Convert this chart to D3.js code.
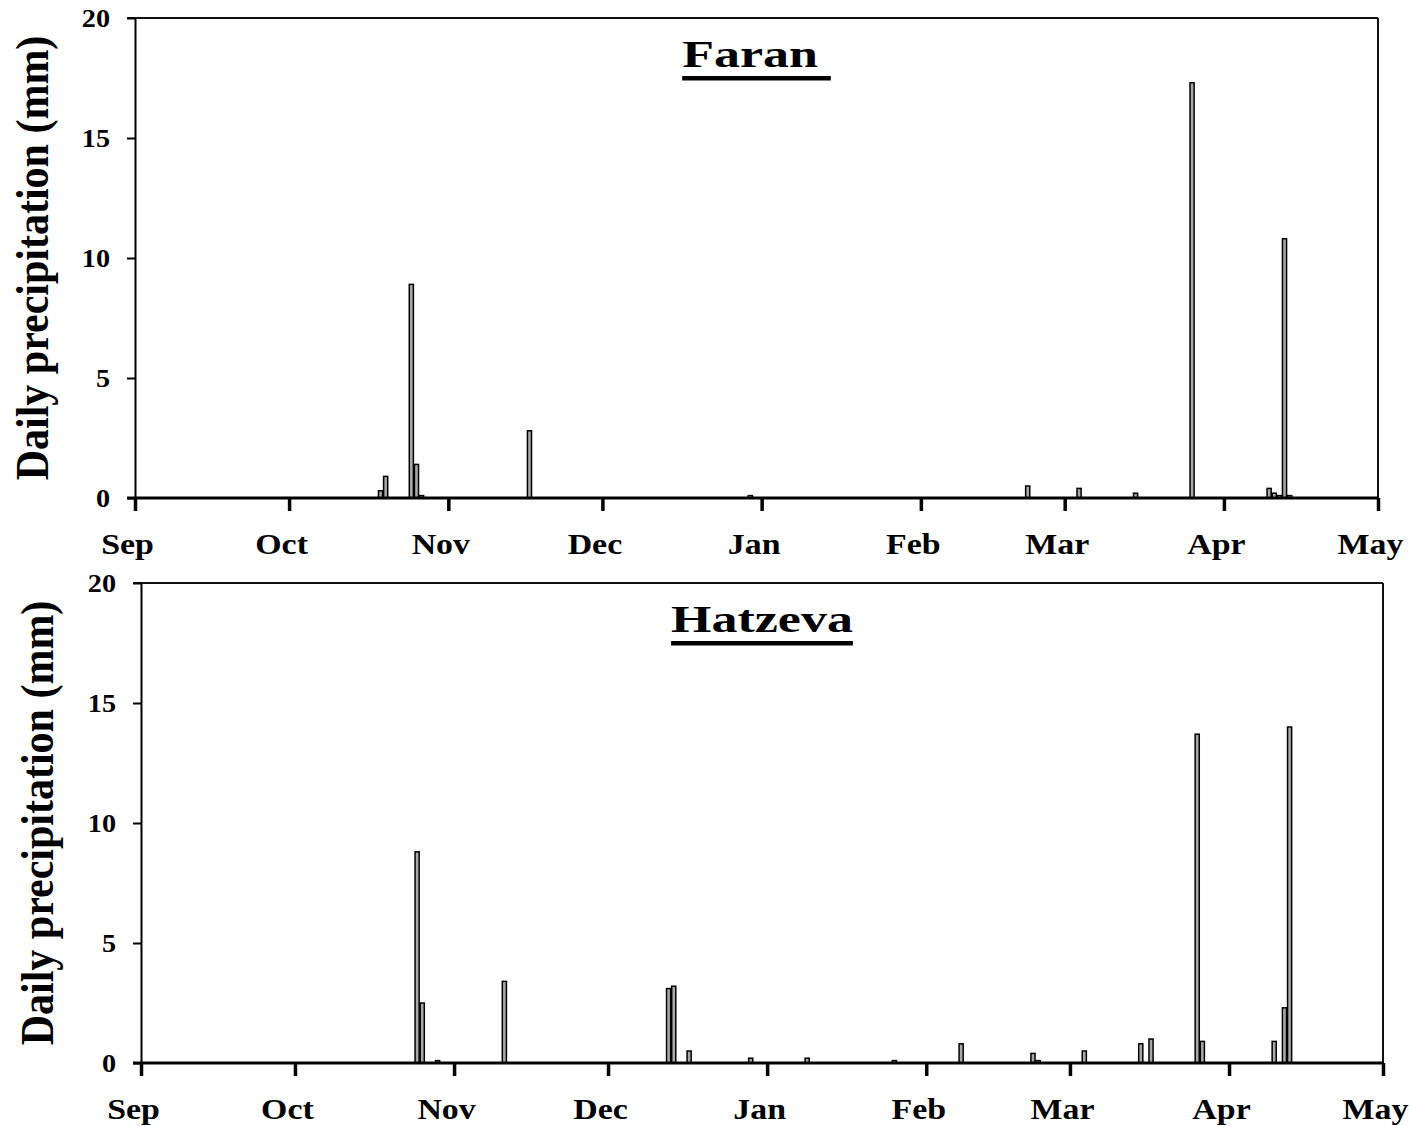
<!DOCTYPE html>
<html>
<head>
<meta charset="utf-8">
<script src="https://cdn.jsdelivr.net/npm/d3@7/dist/d3.min.js"></script>
<style>
  html, body { margin: 0; padding: 0; background: #fff; }
  svg { display: block; }
  text { font-family: "Liberation Serif", "Times New Roman", serif; font-weight: bold; fill: #000; }
</style>
</head>
<body>
<svg id="chart" width="1409" height="1126"></svg>
<script>
// ---------------- DATA ----------------
const stationNames = ["Faran ", "Hatzeva"];

const faranDates = ["2010-10-18","2010-10-19","2010-10-24","2010-10-25","2010-10-26","2010-11-16",
  "2010-12-29","2011-02-21","2011-03-03","2011-03-14","2011-03-25",
  "2011-04-09","2011-04-10","2011-04-11","2011-04-12","2011-04-13"];
const faranValues = [0.3, 0.9, 8.9, 1.4, 0.1, 2.8,
  0.1, 0.5, 0.4, 0.2, 17.3,
  0.4, 0.2, 0.1, 10.8, 0.1];

const hatzevaDates = ["2010-10-24","2010-10-25","2010-10-28","2010-11-10","2010-12-12","2010-12-13",
  "2010-12-16","2010-12-28","2011-01-08","2011-01-25","2011-02-07","2011-02-21","2011-02-22",
  "2011-03-03","2011-03-14","2011-03-16","2011-03-25","2011-03-26",
  "2011-04-09","2011-04-11","2011-04-12"];
const hatzevaValues = [8.8, 2.5, 0.1, 3.4, 3.1, 3.2,
  0.5, 0.2, 0.2, 0.1, 0.8, 0.4, 0.1,
  0.5, 0.8, 1.0, 13.7, 0.9,
  0.9, 2.3, 14.0];

const monthLabels = ["Sep","Oct","Nov","Dec","Jan","Feb","Mar","Apr","May"];
const yTicks = [0, 5, 10, 15, 20];
const axisTitle = "Daily precipitation (mm)";
const domainStart = "2010-09-01";
const domainEnd = "2011-05-01";

// ---------------- LAYOUT ----------------
const parse = d3.utcParse("%Y-%m-%d");
const panels = [
  { name: stationNames[0], dates: faranDates, values: faranValues,
    left: 135, right: 1378, top: 18, bottom: 498, ylabX: 48 },
  { name: stationNames[1], dates: hatzevaDates, values: hatzevaValues,
    left: 141, right: 1383, top: 583, bottom: 1063, ylabX: 53 }
];

const svg = d3.select("#chart");
const SX = 1.13;      // horizontal stretch of the reference glyphs
const TSX = 1.35;     // title stretch

panels.forEach(p => {
  const x = d3.scaleUtc()
    .domain([parse(domainStart), parse(domainEnd)])
    .range([p.left, p.right]);
  const y = d3.scaleLinear().domain([0, 20]).range([p.bottom, p.top]);
  const dayPx = x(d3.utcDay.offset(parse(domainStart), 1)) - x(parse(domainStart));
  const monthTicks = d3.utcMonth.range(parse(domainStart), d3.utcDay.offset(parse(domainEnd), 1));

  const g = svg.append("g");

  // frame (top & right)
  g.append("line").attr("x1", p.left - 8).attr("x2", p.right)
    .attr("y1", p.top).attr("y2", p.top)
    .attr("stroke", "#111").attr("stroke-width", 2);
  g.append("line").attr("x1", p.right).attr("x2", p.right)
    .attr("y1", p.top).attr("y2", p.bottom)
    .attr("stroke", "#111").attr("stroke-width", 2);

  // bars
  const data = p.dates.map((d, i) => ({ date: parse(d), value: p.values[i] }));
  g.selectAll("rect.bar").data(data).enter().append("rect")
    .attr("class", "bar")
    .attr("x", d => x(d.date) + 0.4 * dayPx)
    .attr("width", 0.8 * dayPx)
    .attr("y", d => y(d.value))
    .attr("height", d => y(0) - y(d.value))
    .attr("fill", "#a8a8a8")
    .attr("stroke", "#000")
    .attr("stroke-width", 1.5);

  // y axis
  const yAxis = d3.axisLeft(y).tickValues(yTicks).tickSize(8).tickSizeOuter(0).tickFormat(d3.format("d"));
  const ya = g.append("g").attr("transform", `translate(${p.left},0)`).call(yAxis);
  ya.select(".domain").attr("stroke", "#000").attr("stroke-width", 2);
  ya.selectAll(".tick line").attr("stroke", "#000").attr("stroke-width", 2);
  ya.selectAll(".tick text")
    .attr("x", null).attr("dy", null)
    .attr("text-anchor", "end")
    .attr("transform", `translate(-25,8.5) scale(${SX},1)`)
    .style("font-size", "25px")
    .style("font-family", "'Liberation Serif', serif")
    .style("font-weight", "bold");

  // x axis
  const xAxis = d3.axisBottom(x).tickValues(monthTicks).tickSize(13).tickSizeOuter(0)
    .tickFormat((d, i) => monthLabels[i]);
  const xa = g.append("g").attr("transform", `translate(0,${p.bottom})`).call(xAxis);
  xa.select(".domain").attr("stroke", "#000").attr("stroke-width", 3)
    .attr("d", `M${p.left - 8},0H${p.right}`);
  xa.selectAll(".tick line").attr("stroke", "#000").attr("stroke-width", 3.5);
  xa.selectAll(".tick text")
    .attr("y", null).attr("dy", null)
    .attr("text-anchor", "middle")
    .attr("transform", `translate(-8,56) scale(${SX},1)`)
    .style("font-size", "30px")
    .style("font-family", "'Liberation Serif', serif")
    .style("font-weight", "bold");

  // y axis title
  g.append("text")
    .attr("transform", `translate(${p.ylabX},${(p.top + p.bottom) / 2}) scale(${SX},1) rotate(-90)`)
    .attr("text-anchor", "middle")
    .style("font-size", "42px")
    .text(axisTitle);

  // station title (underlined)
  const cx = (p.left + p.right) / 2;
  const baseY = p.top + 49;
  const t = g.append("text")
    .attr("transform", `translate(${cx},${baseY}) scale(${TSX},1)`)
    .attr("text-anchor", "middle")
    .style("font-size", "38.5px")
    .style("white-space", "pre")
    .attr("xml:space", "preserve")
    .text(p.name);
  const len = t.node().getComputedTextLength() * TSX;
  g.append("rect")
    .attr("x", cx - len / 2).attr("width", len)
    .attr("y", baseY + 9).attr("height", 4.5)
    .attr("fill", "#000");
});
</script>
</body>
</html>
